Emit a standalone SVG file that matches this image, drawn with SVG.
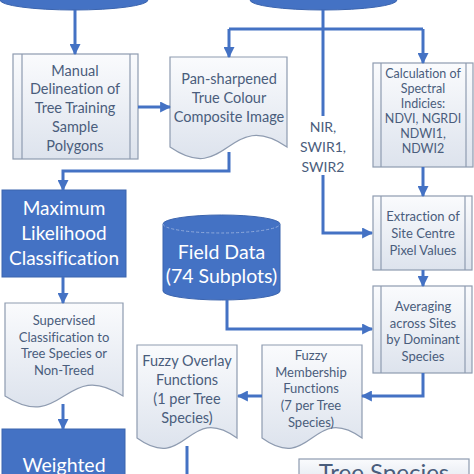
<svg xmlns="http://www.w3.org/2000/svg" width="474" height="474" viewBox="0 0 474 474">
<defs>
<linearGradient id="lg" x1="0" y1="0" x2="0" y2="1">
<stop offset="0" stop-color="#fafbfd"/>
<stop offset="1" stop-color="#dde3ed"/>
</linearGradient>
<marker id="ah" viewBox="0 0 10 10" refX="9" refY="5" markerWidth="11" markerHeight="11" markerUnits="userSpaceOnUse" orient="auto">
<path d="M0,0 L10,5 L0,10 Z" fill="#4472c4"/>
</marker>
<style>
.lt{fill:url(#lg);stroke:#8e9bb0;stroke-width:1.2}
.in{stroke:#8e9bb0;stroke-width:1.2;fill:none}
.bl{fill:#4472c4;stroke:#3b64ae;stroke-width:1}
.c{stroke:#4472c4;stroke-width:3;fill:none}
.ca{stroke:#4472c4;stroke-width:3;fill:none;marker-end:url(#ah)}
text{font-family:Lato,"Liberation Sans",sans-serif;text-anchor:middle;font-variant-ligatures:none}
.d{fill:#4a5d7c}
.w{fill:#ffffff}
</style>
</defs>
<rect width="474" height="474" fill="#ffffff"/>

<g id="src-left">
<path class="bl" d="M0,-40 H148 V0 A74,10 0 0 1 0,0 Z"/>
</g>
<g id="src-right">
<path class="bl" d="M250,-40 H397 V0 A73.5,10 0 0 1 250,0 Z"/>
</g>

<g id="manual">
<rect class="lt" x="13" y="54" width="125" height="105"/>
<line class="in" x1="22" y1="54" x2="22" y2="159"/>
<line class="in" x1="130" y1="54" x2="130" y2="159"/>
<text class="d" font-size="14.5" x="75" y="75.5">Manual</text>
<text class="d" font-size="14.5" x="75" y="94">Delineation of</text>
<text class="d" font-size="14.5" x="75" y="112.5">Tree Training</text>
<text class="d" font-size="14.5" x="75" y="131.5">Sample</text>
<text class="d" font-size="14.5" x="75" y="150.5">Polygons</text>
</g>

<g id="pansharp">
<path class="lt" d="M170,57 H287 V147 C228,107 228,187 170,147 Z"/>
<text class="d" font-size="14.5" x="229" y="83.5">Pan-sharpened</text>
<text class="d" font-size="14.5" x="229" y="102.5">True Colour</text>
<text class="d" font-size="14.5" x="229" y="121.5">Composite Image</text>
</g>

<g id="calc">
<rect class="lt" x="373" y="63" width="100" height="104"/>
<line class="in" x1="381" y1="63" x2="381" y2="167"/>
<line class="in" x1="466" y1="63" x2="466" y2="167"/>
<text class="d" font-size="12.5" x="423" y="78">Calculation of</text>
<text class="d" font-size="12.5" x="423" y="93">Spectral</text>
<text class="d" font-size="12.5" x="423" y="108">Indicies:</text>
<text class="d" font-size="12.5" x="423" y="123">NDVI, NGRDI</text>
<text class="d" font-size="12.5" x="423" y="138">NDWI1,</text>
<text class="d" font-size="12.5" x="423" y="153">NDWI2</text>
</g>

<g id="nir-label">
<text class="d" font-size="14" x="323" y="132">NIR,</text>
<text class="d" font-size="14" x="323" y="152">SWIR1,</text>
<text class="d" font-size="14" x="323" y="172">SWIR2</text>
</g>

<g id="maxlik">
<rect class="bl" x="2" y="190" width="124" height="87"/>
<text class="w" font-size="19" x="64" y="215">Maximum</text>
<text class="w" font-size="19" x="64" y="240">Likelihood</text>
<text class="w" font-size="19" x="64" y="265">Classification</text>
</g>

<g id="fielddata">
<path class="bl" d="M163,224 V291 A58.5,9 0 0 0 280,291 V224 A58.5,9 0 0 0 163,224 Z"/>
<path d="M163,224 A58.5,9 0 0 0 280,224" fill="none" stroke="#8faadc" stroke-width="1" stroke-dasharray="3,2"/>
<text class="w" font-size="19.5" x="221.5" y="259">Field Data</text>
<text class="w" font-size="19.5" x="221.5" y="283">(74 Subplots)</text>
</g>

<g id="extraction">
<rect class="lt" x="373" y="196" width="99" height="74"/>
<line class="in" x1="381" y1="196" x2="381" y2="270"/>
<line class="in" x1="465" y1="196" x2="465" y2="270"/>
<text class="d" font-size="13" x="423" y="221">Extraction of</text>
<text class="d" font-size="13" x="423" y="238">Site Centre</text>
<text class="d" font-size="13" x="423" y="255">Pixel Values</text>
</g>

<g id="averaging">
<rect class="lt" x="373" y="286" width="99" height="87"/>
<line class="in" x1="381" y1="286" x2="381" y2="373"/>
<line class="in" x1="465" y1="286" x2="465" y2="373"/>
<text class="d" font-size="13" x="423" y="311">Averaging</text>
<text class="d" font-size="13" x="423" y="328">across Sites</text>
<text class="d" font-size="13" x="423" y="344">by Dominant</text>
<text class="d" font-size="13" x="423" y="361">Species</text>
</g>

<g id="supervised">
<path class="lt" d="M5,303 H123 V396 C64,358 64,434 5,396 Z"/>
<text class="d" font-size="13" x="64" y="325">Supervised</text>
<text class="d" font-size="13" x="64" y="342">Classification to</text>
<text class="d" font-size="13" x="64" y="358">Tree Species or</text>
<text class="d" font-size="13" x="64" y="375">Non-Treed</text>
</g>

<g id="membership">
<path class="lt" d="M262,345 H362 V438 C312,402 312,474 262,438 Z"/>
<text class="d" font-size="13" x="311" y="360">Fuzzy</text>
<text class="d" font-size="13" x="311" y="377">Membership</text>
<text class="d" font-size="13" x="311" y="393">Functions</text>
<text class="d" font-size="13" x="311" y="410">(7 per Tree</text>
<text class="d" font-size="13" x="311" y="427">Species)</text>
</g>

<g id="overlay">
<path class="lt" d="M137,345 H237 V438 C187,402 187,474 137,438 Z"/>
<text class="d" font-size="14.5" x="187" y="365.5">Fuzzy Overlay</text>
<text class="d" font-size="14.5" x="187" y="384.5">Functions</text>
<text class="d" font-size="14.5" x="187" y="403.5">(1 per Tree</text>
<text class="d" font-size="14.5" x="187" y="422.5">Species)</text>
</g>

<g id="weighted">
<rect class="bl" x="2" y="429" width="123" height="60"/>
<text class="w" font-size="19.5" x="64" y="472">Weighted</text>
</g>

<g id="treespecies">
<rect class="lt" x="299" y="459" width="170" height="30"/>
<text class="d" font-size="24" x="384" y="481">Tree Species</text>
</g>

<g id="connectors">
<path class="ca" d="M75,10 V54"/>
<path class="c" d="M323,10 V116"/>
<path class="c" d="M229,29 H423"/>
<path class="ca" d="M229,29 V57"/>
<path class="ca" d="M423,29 V63"/>
<path class="ca" d="M323,175 V233 H372"/>
<path class="ca" d="M138,107 H170"/>
<path class="ca" d="M229,152 V171 H63 V190"/>
<path class="ca" d="M63,277 V303"/>
<path class="ca" d="M63,404 V429"/>
<path class="ca" d="M423,167 V196"/>
<path class="ca" d="M423,270 V286"/>
<path class="ca" d="M227,300 V329 H372"/>
<path class="ca" d="M423,373 V396 H362"/>
<path class="ca" d="M262,396 H238"/>
<path class="c" d="M187,446 V474"/>
</g>
</svg>
